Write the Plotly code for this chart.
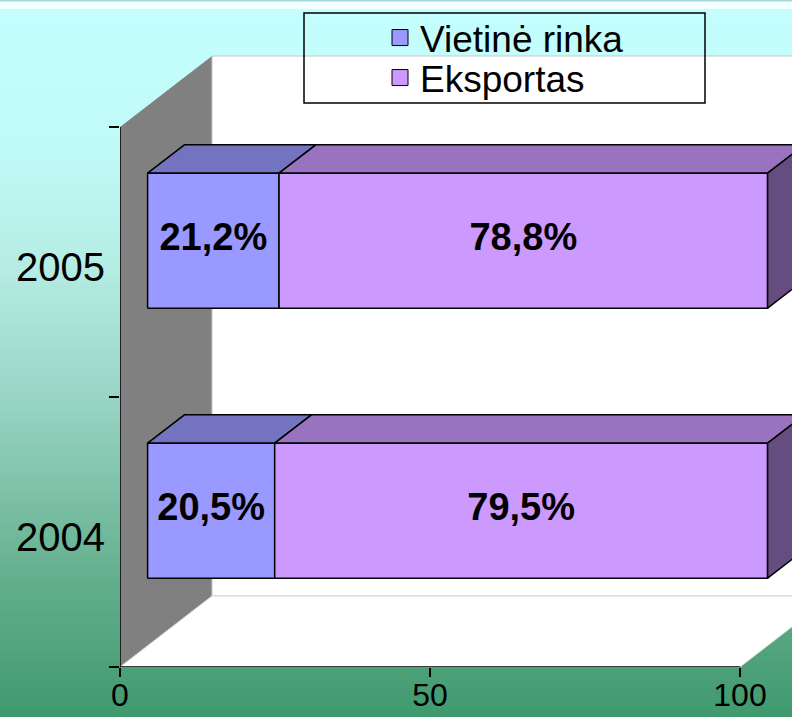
import plotly.graph_objects as go

# ---------------- data ----------------
years = ["2004", "2005"]
series_names = ["Vietinė rinka", "Eksportas"]
vietine = [20.5, 21.2]
eksportas = [79.5, 78.8]
x_ticks = [0, 50, 100]

# ---------------- style ----------------
front_colors = ["#9999FF", "#CC99FF"]
top_colors = ["#7373BF", "#9973BF"]
side_colors = ["#4D4D80", "#664D80"]
FONT = "Arial, Liberation Sans, sans-serif"

W, H = 792, 717
L, B = 120, 50              # plot-area margins (px)
PX_PER_X = 6.2              # px per value unit
PX_PER_Y = 270              # px per category band
DEPTH_PX = (92, 71)         # 3-D depth offset (px right, px up)
X_MAX = (W - L) / PX_PER_X
Y_MIN = -0.5
Y_MAX = Y_MIN + (H - B) / PX_PER_Y
DX = DEPTH_PX[0] / PX_PER_X
DY = DEPTH_PX[1] / PX_PER_Y
D0, D1 = 0.3, 0.7           # bar depth span (fraction of wall depth)
HALF = 0.25                 # half bar thickness (category units)
LABEL_NUDGE = 0.02          # category label vertical nudge


def px_x(p):
    return (p - L) / (W - L)


def px_y(p):
    return 1 - p / (H - B)


fig = go.Figure()

# ---------------- background gradient (paper shapes) ----------------
stops = [(0, (196, 255, 255)), (150, (192, 250, 247)), (260, (182, 237, 229)),
         (400, (152, 212, 196)), (590, (96, 173, 138)), (717, (64, 153, 110))]


def grad(py):
    for (y0, c0), (y1, c1) in zip(stops[:-1], stops[1:]):
        if y0 <= py <= y1:
            t = (py - y0) / (y1 - y0)
            return "rgb(%d,%d,%d)" % tuple(round(a + (b - a) * t) for a, b in zip(c0, c1))
    return "rgb(%d,%d,%d)" % stops[-1][1]


shapes = []
step = 3
for py in range(0, H, step):
    shapes.append(dict(type="rect", xref="paper", yref="paper", layer="below",
                       x0=px_x(0), x1=px_x(W), y0=px_y(py + step + 0.5), y1=px_y(py),
                       fillcolor=grad(py + step / 2), line=dict(width=0)))
shapes.append(dict(type="rect", xref="paper", yref="paper", layer="below",
                   x0=px_x(0), x1=px_x(W), y0=px_y(9), y1=px_y(0),
                   fillcolor="#F2FFFF", line=dict(width=0)))
shapes.append(dict(type="rect", xref="paper", yref="paper", layer="below",
                   x0=px_x(0), x1=px_x(W), y0=px_y(1.5), y1=px_y(0),
                   fillcolor="#A9D6D6", line=dict(width=0)))
# legend frame
shapes.append(dict(type="rect", xref="paper", yref="paper", layer="above",
                   x0=px_x(304), x1=px_x(705), y0=px_y(103), y1=px_y(13),
                   fillcolor="rgba(0,0,0,0)", line=dict(color="black", width=1.5)))

n_cat = len(years)
y_lo, y_hi = -0.5, n_cat - 0.5


def poly(xs, ys, fill, line_color="black", lw=1.5, yaxis="y"):
    fig.add_trace(go.Scatter(x=xs + [xs[0]], y=ys + [ys[0]], mode="lines", fill="toself",
                             fillcolor=fill, line=dict(color=line_color, width=lw),
                             hoverinfo="skip", showlegend=False, yaxis=yaxis))


# side wall (grey)
fig.add_trace(go.Scatter(x=[0, 0, DX, DX, 0], y=[y_lo, y_hi, y_hi + DY, y_lo + DY, y_lo],
                         mode="none", fill="toself", fillcolor="#808080",
                         hoverinfo="skip", showlegend=False))
# back wall (white)
poly([DX, DX, x_ticks[-1] + DX, x_ticks[-1] + DX], [y_lo + DY, y_hi + DY, y_hi + DY, y_lo + DY],
     "white", line_color="#C8C8C8", lw=1)
# floor (white)
poly([0, x_ticks[-1], x_ticks[-1] + DX, DX], [y_lo, y_lo, y_lo + DY, y_lo + DY],
     "white", line_color="#D8D8D8", lw=1)

# axis lines
fig.add_trace(go.Scatter(x=[0, 0], y=[y_lo, y_hi], mode="lines",
                         line=dict(color="black", width=1.5), hoverinfo="skip",
                         showlegend=False, yaxis="y2"))
fig.add_trace(go.Scatter(x=[x_ticks[0], x_ticks[-1]], y=[y_lo, y_lo], mode="lines",
                         line=dict(color="black", width=1.5), hoverinfo="skip",
                         showlegend=False, yaxis="y2"))

# ---------------- 3-D stacked bars ----------------
series = [vietine, eksportas]
lab_x, lab_y, lab_t = [], [], []
for i in reversed(range(n_cat)):
    start = 0.0
    for k, vals in enumerate(series):
        v = vals[i]
        a, b = start, start + v
        yb, yt = i - HALF, i + HALF
        # top face
        poly([a + D0 * DX, b + D0 * DX, b + D1 * DX, a + D1 * DX],
             [yt + D0 * DY, yt + D0 * DY, yt + D1 * DY, yt + D1 * DY], top_colors[k])
        # front face
        poly([a + D0 * DX, b + D0 * DX, b + D0 * DX, a + D0 * DX],
             [yb + D0 * DY, yb + D0 * DY, yt + D0 * DY, yt + D0 * DY], front_colors[k])
        if k == len(series) - 1:
            poly([b + D0 * DX, b + D1 * DX, b + D1 * DX, b + D0 * DX],
                 [yb + D0 * DY, yb + D1 * DY, yt + D1 * DY, yt + D0 * DY], side_colors[k])
        lab_x.append((a + b) / 2 + D0 * DX)
        lab_y.append(i + D0 * DY)
        lab_t.append(f"{v:.1f}".replace(".", ",") + "%")
        start = b

fig.add_trace(go.Scatter(x=lab_x, y=lab_y, text=lab_t, mode="text",
                         textfont=dict(family=FONT, size=38, color="black", weight="bold"),
                         textposition="middle center", cliponaxis=False,
                         hoverinfo="skip", showlegend=False))

# legend entries (one legend per row so the rows sit like the reference)
legend_keys = ["legend", "legend2"]
for k, name in enumerate(series_names):
    fig.add_trace(go.Scatter(x=[None], y=[None], mode="markers", name=name,
                             legend=legend_keys[k],
                             marker=dict(symbol="square", size=17, color=front_colors[k],
                                         line=dict(color="black", width=1))))

legend_style = dict(xanchor="left", yanchor="middle", bgcolor="rgba(0,0,0,0)",
                    borderwidth=0, font=dict(family=FONT, size=37, color="black"),
                    itemsizing="trace")
row_centers = [38, 78]

fig.update_layout(
    width=W, height=H,
    margin=dict(l=L, r=0, t=0, b=B, autoexpand=False),
    paper_bgcolor="rgb(64,153,110)",
    plot_bgcolor="rgba(0,0,0,0)",
    shapes=shapes,
    showlegend=True,
    legend=dict(x=px_x(380), y=px_y(row_centers[0]), **legend_style),
    legend2=dict(x=px_x(380), y=px_y(row_centers[1]), **legend_style),
    xaxis=dict(range=[0, X_MAX], tickvals=x_ticks, ticktext=[str(t) for t in x_ticks],
               ticks="outside", ticklen=9, tickwidth=1.5, tickcolor="black",
               showgrid=False, zeroline=False, showline=False, automargin=False,
               tickfont=dict(family=FONT, size=32, color="black"),
               ticklabelstandoff=-9, fixedrange=True),
    yaxis=dict(range=[Y_MIN, Y_MAX], tickvals=[i - LABEL_NUDGE for i in range(n_cat)],
               ticktext=years, automargin=False,
               ticks="", showgrid=False, zeroline=False, showline=False,
               tickfont=dict(family=FONT, size=40, color="black"),
               ticklabelstandoff=14, fixedrange=True),
    yaxis2=dict(range=[Y_MIN, Y_MAX], overlaying="y", side="left", automargin=False,
                tickvals=[y_lo + j for j in range(n_cat + 1)],
                ticks="outside", ticklen=10, tickwidth=1.5, tickcolor="black",
                showticklabels=False, showgrid=False, zeroline=False, showline=False,
                fixedrange=True),
)

fig.write_html("out.html", config={"displayModeBar": False},
               post_script="document.body.style.margin='0px';document.body.style.overflow='hidden';")
